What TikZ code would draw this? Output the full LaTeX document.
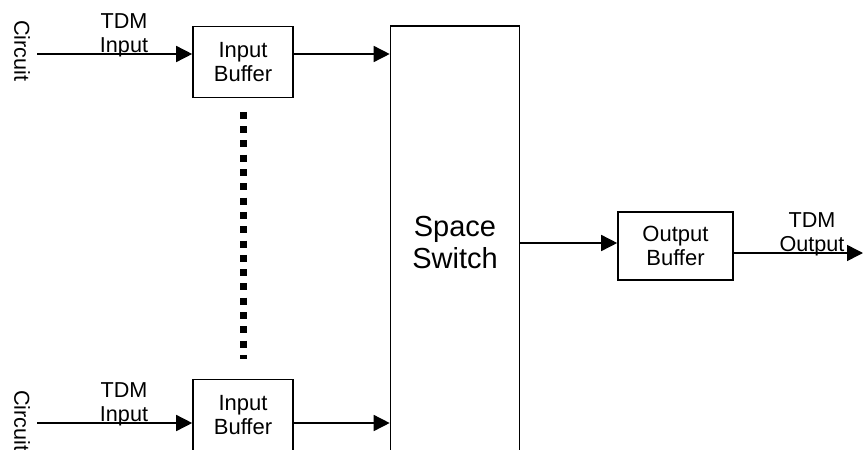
\documentclass[tikz,border=0pt]{standalone}
\usepackage{fontspec}
\setmainfont{Liberation Sans}
\usetikzlibrary{arrows.meta}
\tikzset{
  blockBox/.style={draw,line width=0.8pt,inner sep=0pt,align=center,font=\fontsize{11}{12.2}\selectfont},
  flowLine/.style={line width=0.75pt,-{Triangle[length=8pt,width=8pt]}},
  sideLabel/.style={inner sep=0pt,align=center,font=\fontsize{10.8}{12}\selectfont},
  dotLine/.style={line width=3.5pt,dash pattern=on 3.5pt off 3.65pt},
}

\begin{document}
\begin{tikzpicture}[x=0.5pt,y=-0.5pt]
\useasboundingbox (0,0) rectangle (863,450);
\clip (0,0) rectangle (863,450);
\node[blockBox,minimum width=50pt,minimum height=35.5pt] (bufTop) at (243,62) {Input\\Buffer};
\node[blockBox,minimum width=50pt,minimum height=35.5pt] (bufBot) at (243,415) {Input\\Buffer};
\node[blockBox,minimum width=64.5pt,minimum height=217pt,font=\fontsize{14.5}{16}\selectfont] (switch) at (455,243) {Space\\Switch};
\node[blockBox,minimum width=57.5pt,minimum height=34pt] (outBuf) at (675.5,246) {Output\\Buffer};
\node[sideLabel,rotate=-90] (circTop) at (22,51) {Circuit};
\node[sideLabel,rotate=-90] (circBot) at (22,421) {Circuit};
\node[sideLabel] (tdmInTop) at (124,35) {TDM\\Input};
\node[sideLabel] (tdmInBot) at (124,404) {TDM\\Input};
\node[sideLabel] (tdmOut) at (812,234) {TDM\\Output};
\coordinate (srcTop) at (37,54);
\coordinate (srcBot) at (37,423);
\coordinate (sinkOut) at (863,253);
\draw[flowLine] (srcTop) -- (srcTop -| bufTop.west);
\draw[flowLine] (srcTop -| bufTop.east) -- (srcTop -| switch.west);
\draw[flowLine] (srcBot) -- (srcBot -| bufBot.west);
\draw[flowLine] (srcBot -| bufBot.east) -- (srcBot -| switch.west);
\draw[flowLine] (switch.east) -- (switch.east -| outBuf.west);
\draw[flowLine] (outBuf.east |- sinkOut) -- (sinkOut);
\draw[dotLine] ([yshift=-6.75pt]bufTop.south) -- ([yshift=9.75pt]bufBot.north);
\end{tikzpicture}
\end{document}
